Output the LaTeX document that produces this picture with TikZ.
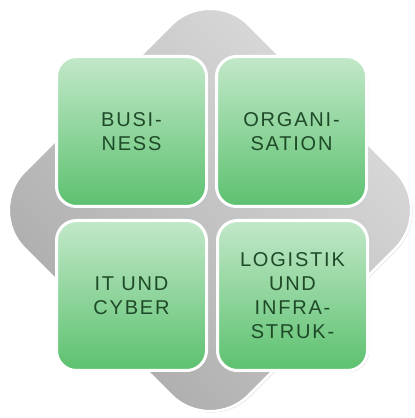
\documentclass[tikz,border=0pt]{standalone}
\usepackage{fontspec}
\usepackage{tikz}
\usetikzlibrary{shadows}
\newfontfamily\tilefont[LetterSpace=9]{Liberation Sans}
\definecolor{tiletop}{RGB}{194,232,201}
\definecolor{tilebottom}{RGB}{92,193,111}
\definecolor{tiletext}{RGB}{30,74,40}
\definecolor{backdark}{RGB}{168,168,168}
\definecolor{backlight}{RGB}{222,222,222}

\begin{document}
\begin{tikzpicture}[x=1pt,y=1pt]
\tikzstyle{tile}=[draw=white,line width=3pt,rounded corners=20pt,minimum size=150pt,
  top color=tiletop,bottom color=tilebottom,align=center,text=tiletext,
  font=\fontsize{20}{24}\selectfont\tilefont,
  drop shadow={shadow xshift=1.5pt,shadow yshift=-1.5pt,opacity=0.25}]
\tikzstyle{backplate}=[draw=white,line width=2.5pt,rounded corners=55pt,
  top color=backlight,bottom color=backdark,shading angle=-45,
  drop shadow={shadow xshift=1.5pt,shadow yshift=-1.5pt,opacity=0.2}]
\useasboundingbox (0,0) rectangle (415,418);
% grey diamond behind the tiles
\path[backplate] (210,432) -- (434,208) -- (210,-16) -- (-14,208) -- cycle;
% the four tiles
\foreach \x/\y/\name/\label in {131.5/286.5/business/{BUSI-\\NESS},
  291.5/286.5/organisation/{ORGANI-\\SATION},
  131.5/122.5/itcyber/{IT UND\\CYBER},
  292.5/122.5/logistik/{LOGISTIK\\UND\\INFRA-\\STRUK-}}{
\node[tile] (\name) at (\x,\y) {\label};
};
\end{tikzpicture}
\end{document}
